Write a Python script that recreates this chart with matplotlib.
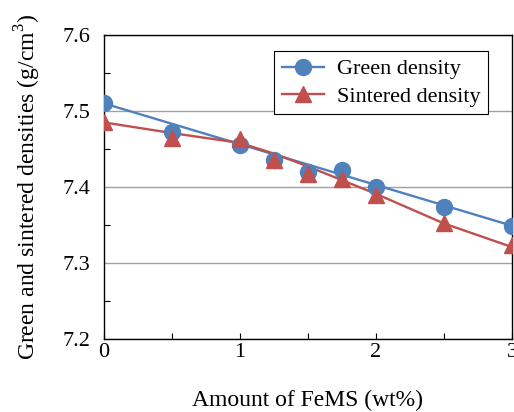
import numpy as np
import matplotlib
matplotlib.use('Agg')
import matplotlib.pyplot as plt
from matplotlib.ticker import MultipleLocator

plt.rcParams['font.family'] = ['Liberation Serif', 'DejaVu Serif']
plt.rcParams['mathtext.fontset'] = 'custom'
plt.rcParams['mathtext.rm'] = 'Liberation Serif'

# measured points
fems = [0, 0.5, 1.0, 1.25, 1.5, 1.75, 2.0, 2.5, 3.0]
green = [7.510, 7.473, 7.455, 7.435, 7.420, 7.422, 7.400, 7.374, 7.349]
sintered = [7.486, 7.464, 7.463, 7.436, 7.417, 7.411, 7.390, 7.353, 7.324]

# trend lines drawn through the points
green_line_x = [0, 3.0]
green_line_y = [7.510, 7.349]
sint_line_x = [0, 0.5, 1.0, 1.25, 1.5, 1.75, 2.0, 2.5, 3.0]
sint_line_y = [7.485, 7.471, 7.458, 7.444, 7.427, 7.409, 7.391, 7.352, 7.321]

blue = '#4F81BD'
red = '#C0504D'

fig = plt.figure(figsize=(5.14, 4.12), dpi=100)
ax = fig.add_axes([0.2023, 0.1772, 0.7938, 0.7378])

ax.plot(green_line_x, green_line_y, color=blue, lw=1.7, zorder=3)
ax.plot(sint_line_x, sint_line_y, color=red, lw=1.7, zorder=3)
ax.plot(fems, green, 'o', color=blue, ms=11.5, zorder=4)
ax.plot(fems, sintered, '^', color=red, ms=11.5, zorder=5)

# legend proxies
ax.plot([], [], '-o', color=blue, lw=1.7, ms=11.5, label='Green density')
ax.plot([], [], '-^', color=red, lw=1.7, ms=11.5, label='Sintered density')

ax.set_xlim(0, 3)
ax.set_ylim(7.2, 7.6)
ax.xaxis.set_major_locator(MultipleLocator(1))
ax.xaxis.set_minor_locator(MultipleLocator(0.5))
ax.yaxis.set_major_locator(MultipleLocator(0.1))
ax.yaxis.set_minor_locator(MultipleLocator(0.05))
ax.yaxis.set_major_formatter(matplotlib.ticker.FormatStrFormatter('%.1f'))
ax.tick_params(which='both', direction='in', length=4, width=0.8, labelsize=16)
ax.tick_params(axis='x', which='major', pad=3)
ax.tick_params(axis='y', which='major', length=0, pad=10)
ax.grid(axis='y', which='major', color='#a0a0a0', lw=1)
ax.set_axisbelow(True)
for s in ax.spines.values():
    s.set_color('black')
    s.set_linewidth(1)

ax.set_xlabel('Amount of FeMS (wt%)', fontsize=17, labelpad=20)
ax.set_ylabel('Green and sintered densities (g/cm$^3$)', fontsize=17, labelpad=14)

leg = ax.legend(loc='upper right', bbox_to_anchor=(0.941, 0.947), borderaxespad=0,
                fontsize=16, frameon=True, fancybox=False, edgecolor='black',
                framealpha=1, handlelength=1.9, handletextpad=0.55,
                labelspacing=0.3, borderpad=0.35)
leg.get_frame().set_linewidth(0.8)

plt.savefig('out.png', dpi=100)
plt.close()
